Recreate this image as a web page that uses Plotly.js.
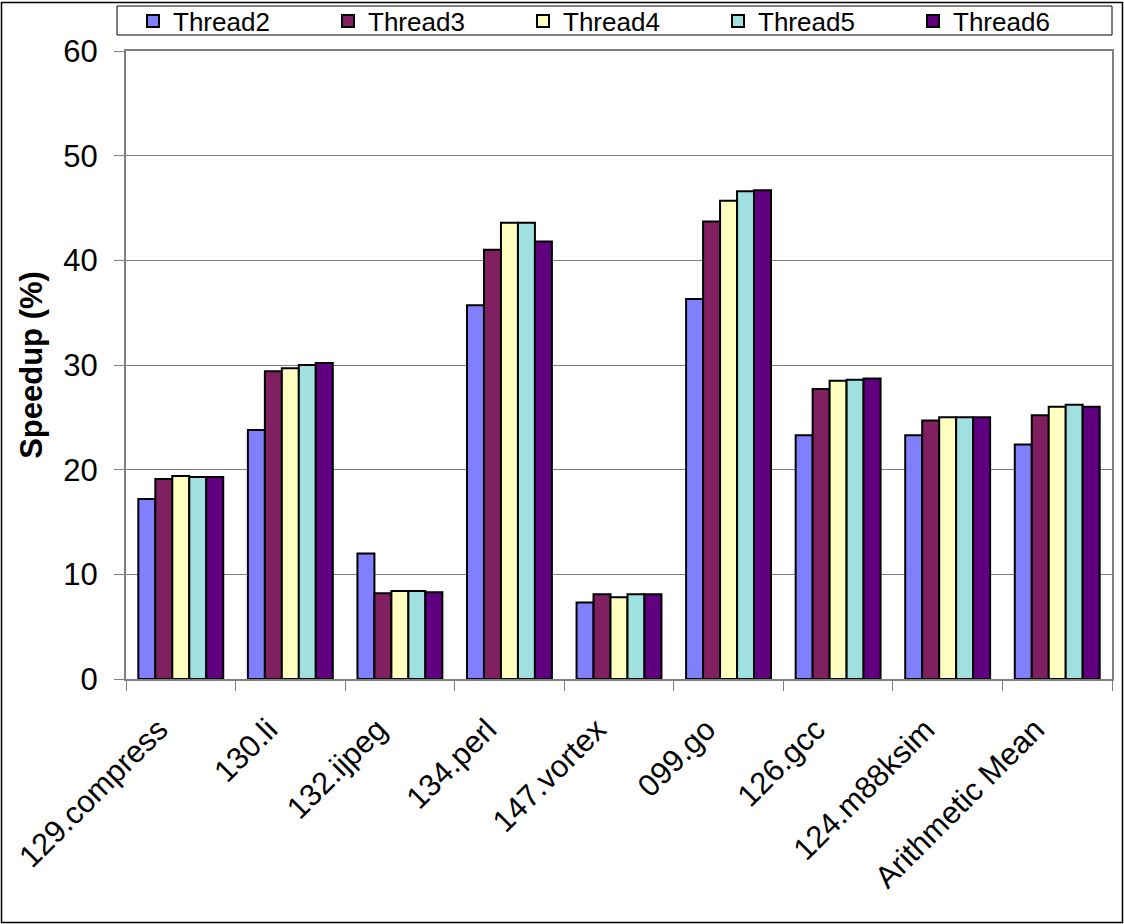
<!DOCTYPE html>
<html>
<head>
<meta charset="utf-8">
<script src="https://cdn.plot.ly/plotly-3.0.1.min.js"></script>
<style>
  html, body { margin: 0; padding: 0; background: #ffffff; }
  #chart { width: 1124px; height: 924px; }
</style>
</head>
<body>
<div id="chart"></div>
<script>
// Benchmarks on the category axis
const benchmarks = ['129.compress', '130.li', '132.ijpeg', '134.perl', '147.vortex',
                    '099.go', '126.gcc', '124.m88ksim', 'Arithmetic Mean'];

// Speedup (%) per thread count
const thread2 = [17.2, 23.8, 12.0, 35.7,  7.3, 36.3, 23.3, 23.3, 22.4];
const thread3 = [19.1, 29.4,  8.2, 41.0,  8.1, 43.7, 27.7, 24.7, 25.2];
const thread4 = [19.4, 29.7,  8.4, 43.6,  7.8, 45.7, 28.5, 25.0, 26.0];
const thread5 = [19.3, 30.0,  8.4, 43.6,  8.1, 46.6, 28.6, 25.0, 26.2];
const thread6 = [19.3, 30.2,  8.3, 41.8,  8.1, 46.7, 28.7, 25.0, 26.0];

const seriesNames = ['Thread2', 'Thread3', 'Thread4', 'Thread5', 'Thread6'];
const seriesValues = [thread2, thread3, thread4, thread5, thread6];
const seriesColors = ['#8080ff', '#802060', '#ffffc0', '#a0e0e0', '#600080'];

const yTicks = [0, 10, 20, 30, 40, 50, 60];

const traces = seriesNames.map((name, i) => ({
  type: 'bar',
  name: name,
  x: benchmarks,
  y: seriesValues[i],
  marker: { color: seriesColors[i], line: { color: '#000000', width: 2 } },
  hoverinfo: 'x+y+name'
}));

// plot-area geometry in pixels
const W = 1124, H = 924;
const M = { l: 126, r: 12, t: 51, b: 245, autoexpand: false };
const pw = W - M.l - M.r, ph = H - M.t - M.b;
const px = v => (v - M.l) / pw;          // page x -> paper x
const py = v => (H - M.b - v) / ph;       // page y -> paper y

const FONT = 'Liberation Sans, Arial, sans-serif';

const layout = {
  width: W,
  height: H,
  margin: M,
  paper_bgcolor: '#ffffff',
  plot_bgcolor: '#ffffff',
  font: { family: FONT, color: '#000000', size: 31 },
  barmode: 'group',
  bargap: 0.225,
  bargroupgap: 0,
  showlegend: true,
  legend: {
    orientation: 'h',
    x: px(133), xanchor: 'left',
    y: py(21), yanchor: 'middle',
    font: { size: 26, family: FONT },
    borderwidth: 0,
    bgcolor: 'rgba(0,0,0,0)',
    entrywidth: 150,
    entrywidthmode: 'pixels',
    traceorder: 'normal',
    itemclick: false
  },
  xaxis: {
    type: 'category',
    tickangle: -45,
    ticks: 'outside',
    tickson: 'boundaries',
    ticklen: 10,
    tickcolor: '#808080',
    tickwidth: 1,
    showline: true,
    linecolor: '#808080',
    linewidth: 2,
    mirror: true,
    showgrid: false,
    tickfont: { size: 31 },
    ticklabelstandoff: 18,
    ticklabelshift: -22,
    automargin: false
  },
  yaxis: {
    range: [0, 60],
    tickvals: yTicks,
    ticktext: yTicks.map(String),
    ticks: 'outside',
    ticklen: 10,
    tickcolor: '#808080',
    tickwidth: 1,
    showline: true,
    linecolor: '#808080',
    linewidth: 2,
    mirror: true,
    showgrid: true,
    gridcolor: '#808080',
    gridwidth: 1,
    zeroline: false,
    tickfont: { size: 31 },
    ticklabelstandoff: 10,
    title: { text: '<b>Speedup (%)</b>', font: { size: 31 }, standoff: 11 },
    automargin: false
  },
  shapes: [
    // outer frame of the figure
    {
      type: 'rect', xref: 'paper', yref: 'paper',
      x0: px(1.5), x1: px(1122.5), y0: py(922.5), y1: py(2.5),
      line: { color: '#000000', width: 1.5 }, fillcolor: 'rgba(0,0,0,0)',
      layer: 'below'
    },
    // legend frame
    {
      type: 'rect', xref: 'paper', yref: 'paper',
      x0: px(117), x1: px(1112), y0: py(35), y1: py(6),
      line: { color: '#000000', width: 1 }, fillcolor: '#ffffff',
      layer: 'below'
    }
  ]
};

Plotly.newPlot('chart', traces, layout, { displayModeBar: false, staticPlot: true });
</script>
</body>
</html>
